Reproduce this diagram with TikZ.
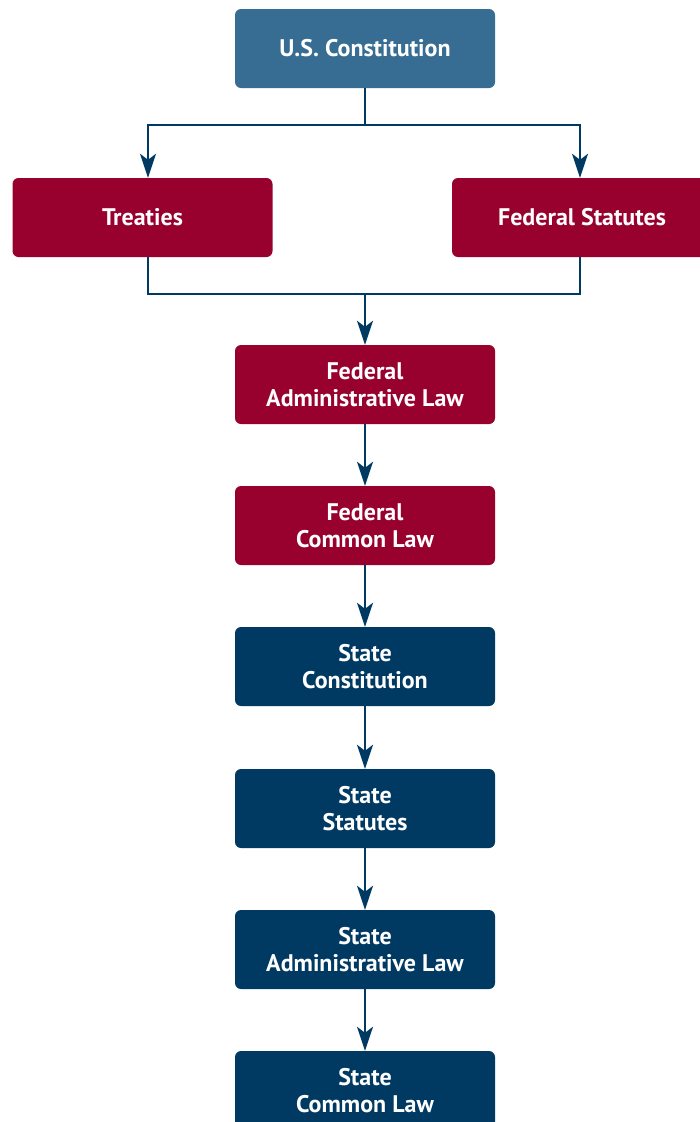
\documentclass[tikz,border=0pt]{standalone}
\usepackage{fontspec}
\setmainfont{PT Sans}
\usetikzlibrary{arrows.meta}
\definecolor{topblue}{HTML}{376C93}
\definecolor{fedred}{HTML}{98002E}
\definecolor{navy}{HTML}{003A63}
\begin{document}
\begin{tikzpicture}[x=1pt,y=-1pt,
  box/.style={rounded corners=6pt,minimum width=260pt,minimum height=79pt,
    text=white,font=\fontsize{24}{27}\selectfont\bfseries,align=center,inner sep=0pt},
  conn/.style={draw=navy,line width=2.3pt},
  arr/.style={conn,-{Stealth[length=24pt,width=16pt,inset=6pt]}}]
\useasboundingbox (0,0) rectangle (700,1122);
\clip (0,0) rectangle (700,1122);
\node[box,fill=topblue] (uscon) at (365,48.5) {U.S. Constitution};
\node[box,fill=fedred] (treaties) at (142.5,217.5) {Treaties};
\node[box,fill=fedred] (fedstat) at (582,217.5) {Federal Statutes};
\node[box,fill=fedred] (fedadmin) at (365,384.5) {Federal\\Administrative Law};
\node[box,fill=fedred] (fedcommon) at (365,525.5) {Federal\\Common Law};
\node[box,fill=navy] (stcon) at (365,666.5) {State\\Constitution};
\node[box,fill=navy] (ststat) at (365,808.5) {State\\Statutes};
\node[box,fill=navy] (stadmin) at (365,949.5) {State\\Administrative Law};
\node[box,fill=navy] (stcommon) at (365,1090.5) {State\\Common Law};
\coordinate (split) at (365,125);
\coordinate (join) at (365,294);
\draw[conn] (uscon.south) -- (split);
\draw[arr] (split) -| ([xshift=5.5pt]treaties.north);
\draw[arr] (split) -| ([xshift=-2pt]fedstat.north);
\draw[conn] ([xshift=5.5pt]treaties.south) |- (join);
\draw[conn] ([xshift=-2pt]fedstat.south) |- (join);
\draw[arr] (join) -- (fedadmin.north);
\draw[arr] (fedadmin) -- (fedcommon);
\draw[arr] (fedcommon) -- (stcon);
\draw[arr] (stcon) -- (ststat);
\draw[arr] (ststat) -- (stadmin);
\draw[arr] (stadmin) -- (stcommon);
\end{tikzpicture}
\end{document}
